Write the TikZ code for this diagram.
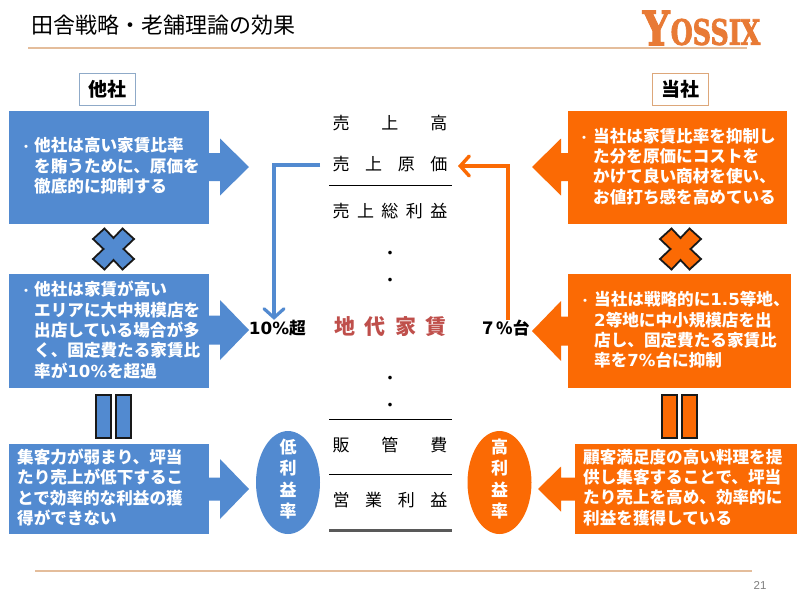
\documentclass[tikz,border=0pt]{standalone}
\usepackage{fontspec}
\setmainfont{Noto Sans CJK JP}
\newfontfamily\latinb{DejaVu Sans}[BoldFont={DejaVu Sans Bold}]
\newfontfamily\logofont{DejaVu Serif Bold}[FakeBold=2.5]
\newfontfamily\pagefont{Liberation Sans}
\usetikzlibrary{arrows.meta}
\definecolor{myblue}{HTML}{528AD0}
\definecolor{myorange}{HTML}{FB6A04}
\definecolor{rulecol}{HTML}{E4BD9B}
\definecolor{rentred}{HTML}{BF4F4B}
\definecolor{logocol}{HTML}{E87A35}
\definecolor{tagblue}{HTML}{8FAAC8}
\definecolor{tagorange}{HTML}{DDA77A}
\newcommand{\fs}[1]{\fontsize{#1}{#1}\selectfont}
\newcommand{\lat}[1]{{\latinb\bfseries #1}}
\newcommand{\spreadw}[1]{\makebox[115pt][s]{#1}}
\tikzset{
  x=1pt,y=-1pt,
  bodytext/.style={anchor=west,inner sep=0,align=left,text=white,font=\fs{16.6}\bfseries,execute at begin node={\baselineskip=20.3pt}},
  bullet/.style={inner sep=0,text=white,font=\fs{15}},
  tag/.style={draw=#1,line width=1pt,fill=white,minimum width=56pt,minimum height=32pt,inner sep=0,font=\fs{19}\bfseries},
  rowtext/.style={inner sep=0,font=\fs{17}},
  rulethin/.style={draw=black,line width=0.8pt},
  pct/.style={inner sep=0,font=\fs{16.8}\bfseries},
  crossmark/.style={draw=black!90,line width=1.8pt,line join=miter},
  eqbar/.style={draw=black!90,line width=1.6pt},
  blueconn/.style={draw=myblue,line width=3.2pt,-{Straight Barb[length=9pt,width=20pt,line width=3.2pt,line cap=round]}},
  orangeconn/.style={draw=myorange,line width=3.4pt,-{Straight Barb[length=9pt,width=20pt,line width=3.4pt,line cap=round]}},
  ovaltext/.style={inner sep=0,align=center,text=white,font=\fs{17}\bfseries,execute at begin node={\baselineskip=21.3pt}},
}
\newcommand{\barrow}[7]{% colour, box edge x, back x, tip x, tip y, head half, shaft half
  \fill[#1] (#2,#5-#7) -- (#3,#5-#7) -- (#3,#5-#6) -- (#4,#5) -- (#3,#5+#6) -- (#3,#5+#7) -- (#2,#5+#7) -- cycle;}
\newcommand{\crossat}[3]{%
  \filldraw[crossmark,fill=#1,shift={(#2,#3)}] (0,-11) -- (9,-20.5) -- (20.5,-10) -- (10,0) -- (20.5,10) -- (9,20.5) -- (0,11) -- (-9,20.5) -- (-20.5,10) -- (-10,0) -- (-20.5,-10) -- (-9,-20.5) -- cycle;}
\begin{document}
\begin{tikzpicture}
\useasboundingbox (0,0) rectangle (800,600);
\fill[white] (0,0) rectangle (800,600);
% title
\node[anchor=west,inner sep=0,font=\fs{22}] (title) at (31,25) {田舎戦略・老舗理論の効果};
\draw[rulecol,line width=1.3pt] (28,48) -- (747,48);
\draw[rulecol,line width=1.3pt] (35,571) -- (752,571);
\node[inner sep=0,text=black!50,font=\pagefont\fs{11.5}] (pageno) at (760,585) {21};
% logo
\node[anchor=south west,inner sep=0,text=logocol] (logoY) at (642.5,45.5) {\resizebox{27pt}{34.5pt}{\logofont Y}};
\node[anchor=south west,inner sep=0,text=logocol] (logoR) at (670.5,45.5) {\resizebox{89.5pt}{26pt}{\logofont OSSIX}};
% tags
\node[tag=tagblue] (tagL) at (107,89) {他社};
\node[tag=tagorange] (tagR) at (680,89) {当社};
% left panels
\fill[myblue] (9,111) rectangle (209,224);
\fill[myblue] (9,274) rectangle (209,388);
\fill[myblue] (9,444) rectangle (209,534);
\barrow{myblue}{209}{220}{249}{167}{28.5}{14}
\barrow{myblue}{209}{220}{249}{330}{30}{14.5}
\barrow{myblue}{209}{220}{249}{489}{30}{11.5}
\node[bullet] at (26,149) {・};
\node[bodytext] (tL1) at (34,166) {他社は高い家賃比率\\を賄うために、原価を\\徹底的に抑制する};
\node[bullet] at (26,293) {・};
\node[bodytext] (tL2) at (34,330) {他社は家賃が高い\\エリアに大中規模店を\\出店している場合が多\\く、固定費たる家賃比\\率が\lat{10\%}を超過};
\node[bodytext] (tL3) at (17,487.5) {集客力が弱まり、坪当\\たり売上が低下するこ\\とで効率的な利益の獲\\得ができない};
\crossat{myblue}{113.5}{249}
\filldraw[eqbar,fill=myblue] (96,395) rectangle (111,438);
\filldraw[eqbar,fill=myblue] (116,395) rectangle (131,438);
\fill[myblue] (288,482.5) ellipse [x radius=32,y radius=51.5];
\node[ovaltext] (ovalL) at (288,479) {低\\利\\益\\率};
% right panels
\fill[myorange] (568,111) rectangle (787,224);
\fill[myorange] (568,274) rectangle (791,388);
\fill[myorange] (575,444) rectangle (797,534);
\barrow{myorange}{568}{561}{532}{167}{28.5}{14}
\barrow{myorange}{568}{561}{532}{331}{30}{14.5}
\barrow{myorange}{575}{561}{538}{489}{22.5}{11.5}
\node[bullet] at (584,140) {・};
\node[bodytext] (tR1) at (593,166.5) {当社は家賃比率を抑制し\\た分を原価にコストを\\かけて良い商材を使い、\\お値打ち感を高めている};
\node[bullet] at (585,303) {・};
\node[bodytext] (tR2) at (594,330) {当社は戦略的に\lat{1.5}等地、\\\lat{2}等地に中小規模店を出\\店し、固定費たる家賃比\\率を\lat{7\%}台に抑制};
\node[bodytext] (tR3) at (583,487.5) {顧客満足度の高い料理を提\\供し集客することで、坪当\\たり売上を高め、効率的に\\利益を獲得している};
\crossat{myorange}{680.5}{249}
\filldraw[eqbar,fill=myorange] (662,395) rectangle (677,438);
\filldraw[eqbar,fill=myorange] (682,395) rectangle (697,438);
\fill[myorange] (499.5,482.5) ellipse [x radius=32,y radius=51.5];
\node[ovaltext] (ovalR) at (499.5,479) {高\\利\\益\\率};
% centre column
\node[rowtext] (sales) at (390,123) {\spreadw{売\hfil 上\hfil 高}};
\node[rowtext] (cogs) at (390,164) {\spreadw{売\hfil 上\hfil 原\hfil 価}};
\draw[rulethin] (329,185) -- (452,185);
\node[rowtext] (gross) at (390,211) {\spreadw{売\hfil 上\hfil 総\hfil 利\hfil 益}};
\node[rowtext] (d1) at (390,255) {・};
\node[rowtext] (d2) at (390,282) {・};
\node[inner sep=0,text=rentred,font=\fs{21}\bfseries] (rent) at (390.5,327) {\makebox[112pt][s]{地\hfil 代\hfil 家\hfil 賃}};
\node[rowtext] (d3) at (390,380) {・};
\node[rowtext] (d4) at (390,407) {・};
\draw[rulethin] (329,419) -- (452,419);
\node[rowtext] (sga) at (390,445) {\spreadw{販\hfil 管\hfil 費}};
\draw[rulethin] (329,474) -- (452,474);
\node[rowtext] (op) at (390,500) {\spreadw{営\hfil 業\hfil 利\hfil 益}};
\draw[draw=black!65,line width=3pt] (329,530) -- (452,530);
% percent labels
\node[pct] (ten) at (277.5,328) {\lat{10\%}超};
\node[pct] (seven) at (504.5,328) {７\%台};
% connectors
\coordinate (blueStart) at (320,165);
\coordinate (blueCorner) at (274,165);
\coordinate (orangeCorner) at (508,166);
\coordinate (orangeEnd) at (458,166);
\draw[blueconn] (blueStart) -- (blueCorner) -- (blueCorner |- ten.north);
\draw[orangeconn] (orangeCorner |- seven.north) -- (orangeCorner) -- (orangeEnd);
\end{tikzpicture}
\end{document}
